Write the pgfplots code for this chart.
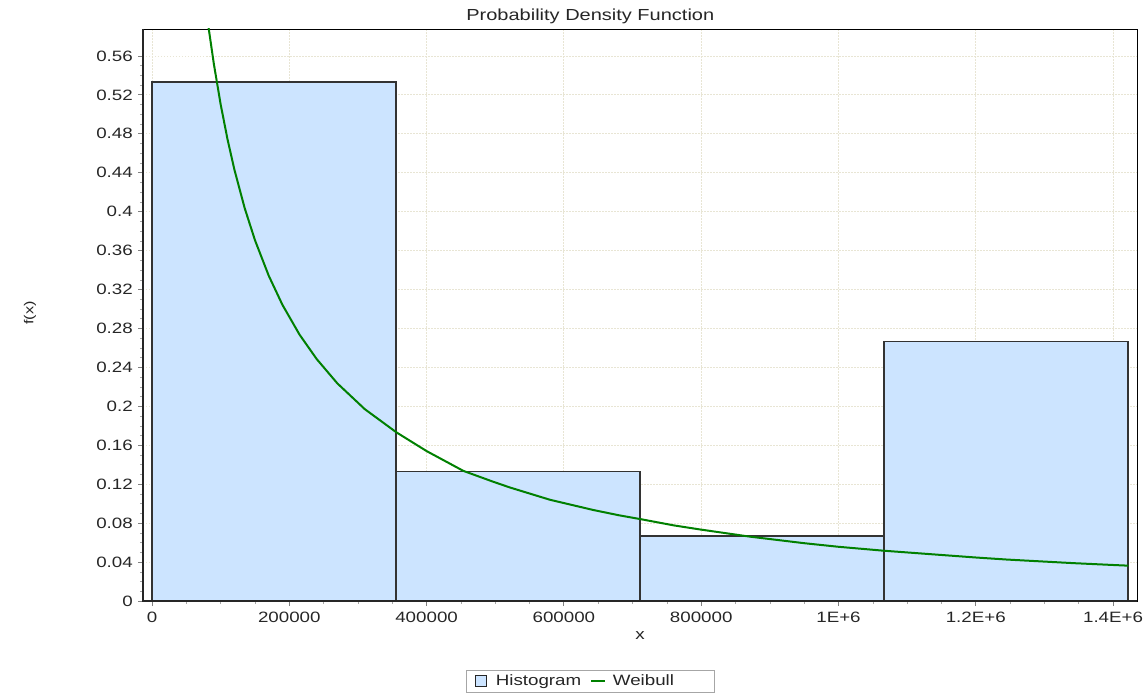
\documentclass[border=0pt]{standalone}
\usepackage{fontspec}
\setmainfont{Liberation Sans}[FakeStretch=1.25]
\usepackage{pgfplots}
\pgfplotsset{compat=1.18}
\definecolor{histfill}{RGB}{204,228,255}
\definecolor{weib}{RGB}{0,128,0}
\definecolor{gridc}{RGB}{232,229,212}
\pgfplotsset{
  histlegend/.style={legend image code/.code={\draw[##1, line width=0.9pt, draw=black!85] (0pt,-5.5pt) rectangle (11pt,5.5pt);}},
  linelegend/.style={legend image code/.code={\draw[##1] (0pt,0pt) -- (14pt,0pt);}},
}
\begin{document}
\begin{tikzpicture}
\useasboundingbox (-143pt,-95pt) rectangle (1003pt,601pt);
\begin{axis}[
  name=ax,
  scale only axis, width=994pt, height=572pt,
  xmin=-13110, xmax=1434850, ymin=0, ymax=0.5877,
  xtick={0,200000,400000,600000,800000,1000000,1200000,1400000},
  xticklabels={0,200000,400000,600000,800000,1E+6,1.2E+6,1.4E+6},
  ytick={0,0.04,0.08,0.12,0.16,0.2,0.24,0.28,0.32,0.36,0.4,0.44,0.48,0.52,0.56},
  yticklabels={0,0.04,0.08,0.12,0.16,0.2,0.24,0.28,0.32,0.36,0.4,0.44,0.48,0.52,0.56},
  scaled x ticks=false, scaled y ticks=false,
  tick pos=left, tick align=outside,
  major tick length=5pt, minor tick length=3pt,
  minor x tick num=3, minor y tick num=3,
  major tick style={gray, line width=0.8pt},
  minor tick style={gray!70, line width=0.6pt},
  grid=major,
  major grid style={gridc, line width=0.8pt, dash pattern=on 1.5pt off 1.5pt},
  axis line style={black, line width=0.8pt},
  tick label style={font=\fontsize{15}{18}\selectfont, text=black!85},
  xticklabel style={inner sep=0pt, anchor=north, yshift=-6pt},
  yticklabel style={inner sep=0pt, anchor=east, xshift=-5pt},
  title={Probability Density Function},
  title style={at={(0.45,1.0115)}, anchor=center, inner sep=0pt, font=\fontsize{16}{19}\selectfont, text=black!85},
  xlabel={x},
  xlabel style={at={(0.5,-0.0603)}, anchor=center, inner sep=0pt, font=\fontsize{15}{18}\selectfont, text=black!85},
  ylabel={f(x)},
  ylabel style={at={(-0.1137,0.5035)}, anchor=center, inner sep=0pt, font=\fontsize{13}{16}\selectfont, text=black!85},
  legend columns=2,
  legend style={at={(0.45,-0.1399)}, anchor=center, draw=gray!70, line width=0.8pt,
    inner xsep=8pt, inner ysep=4pt,
    nodes={inner sep=0pt, text height=11pt, text depth=3pt, font=\fontsize{15}{18}\selectfont, text=black!85},
    /tikz/column 1/.style={column sep=9.4pt},
    /tikz/column 2/.style={column sep=9pt},
    /tikz/column 3/.style={column sep=6.6pt}},
  legend cell align=left,
]
\addplot[ybar interval, fill=histfill, draw=black!80, line width=1.2pt, histlegend]
  coordinates {(0,0.5333) (355425,0.1333) (710850,0.0667) (1066275,0.2667) (1421700,0.2667)};
\addlegendentry{Histogram}
\addplot[weib, line width=2pt, no marks, linelegend]
  coordinates {
  (78000,0.6134) (83000,0.5863) (90000,0.5523) (100000,0.5103) (110000,0.4744)
  (120000,0.4433) (135000,0.4037) (150000,0.3707) (170000,0.3343) (190000,0.3043)
  (215000,0.2736) (240000,0.2485) (270000,0.2236) (310000,0.1971) (356000,0.1733)
  (400100,0.1540) (453500,0.1337)
  (497200,0.1225) (521500,0.1166) (579800,0.1040) (642800,0.0935) (680000,0.0881)
  (713300,0.0839) (760000,0.0777) (798300,0.0735) (871100,0.0661) (950000,0.0594)
  (1000000,0.0557) (1065300,0.0517) (1147900,0.0474) (1200000,0.0447) (1245000,0.0426)
  (1300000,0.0405) (1342100,0.0389) (1400000,0.0370) (1422200,0.0363)};
\addlegendentry{Weibull\hspace*{32pt}}
\end{axis}
\draw[black!85, line width=1.6pt] (ax.north west) -- (ax.south west) -- (ax.south east);
\end{tikzpicture}
\end{document}
